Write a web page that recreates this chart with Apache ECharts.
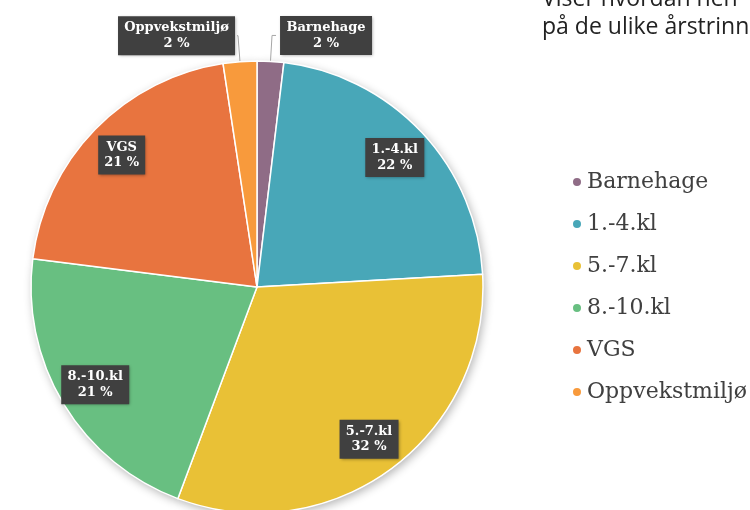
<!DOCTYPE html>
<html>
<head>
<meta charset="utf-8">
<script src="https://cdn.jsdelivr.net/npm/echarts@6/dist/echarts.min.js"></script>
<style>
  html, body { margin: 0; padding: 0; background: #fff; }
  #chart { width: 750px; height: 510px; }
</style>
</head>
<body>
<div id="chart"></div>
<script>
// data
const categories = ['Barnehage', '1.-4.kl', '5.-7.kl', '8.-10.kl', 'VGS', 'Oppvekstmiljø']
const values = [1.9, 22.2, 31.6, 21.3, 20.6, 2.4]
const colors = ['#8f6c86', '#48a7b8', '#e9c136', '#68bf81', '#e8743f', '#f89a3c']
const outsideLabels = ['Barnehage', 'Oppvekstmiljø']
const titleLines = ['Viser hvordan hen', 'på de ulike årstrinn']

const center = [257, 287]
const R = 226
const labelFont = 'bold 13px "DejaVu Serif"'

// measure label text so both lines can be centred inside the box
const ctx = document.createElement('canvas').getContext('2d')
ctx.font = labelFont
function textWidth(s) {
  return Math.ceil(ctx.measureText(s).width)
}

const boxLabel = {
  backgroundColor: '#404040',
  padding: [4, 6],
  shadowBlur: 3,
  shadowColor: 'rgba(0,0,0,0.35)',
  shadowOffsetX: 1,
  shadowOffsetY: 1,
  formatter: (p) => '{t|' + p.name + '}\n{t|' + p.percent + ' %}'
}

function richFor(name) {
  const w = Math.max(textWidth(name), textWidth('00 %'))
  return {
    t: {
      width: w,
      align: 'center',
      color: '#fff',
      fontFamily: 'DejaVu Serif',
      fontWeight: 'bold',
      fontSize: 13,
      lineHeight: 15.5
    }
  }
}

const chart = echarts.init(document.getElementById('chart'))

// main slices; only the two small ones get an outside label
const mainData = categories.map((name, i) => {
  const item = { name, value: values[i], itemStyle: { color: colors[i] } }
  if (outsideLabels.includes(name)) {
    const right = i === 0
    item.label = {
      show: true,
      position: 'outside',
      distanceToLabelLine: right ? 4 : 2,
      rich: richFor(name)
    }
    item.labelLine = {
      show: true,
      length: 26,
      length2: right ? 4 : 1,
      lineStyle: { color: '#a6a6a6', width: 1 }
    }
  }
  return item
})

// transparent ring on top, only used to place the inner labels further out
const ringData = categories.map((name, i) => ({
  name,
  value: values[i],
  label: { show: !outsideLabels.includes(name), rich: richFor(name) }
}))

chart.setOption({
  animation: false,
  legend: {
    orient: 'vertical',
    left: 566,
    top: 166,
    icon: 'circle',
    itemWidth: 10,
    itemHeight: 10,
    itemGap: 20,
    data: categories,
    textStyle: {
      fontFamily: 'DejaVu Serif',
      fontSize: 22,
      lineHeight: 22,
      color: '#404040'
    }
  },
  graphic: [
    {
      type: 'text', left: 542, top: -12,
      style: { text: titleLines[0], font: '23px "Open Sans"', fill: '#222' }
    },
    {
      type: 'text', left: 542, top: 16,
      style: { text: titleLines[1], font: '23px "Open Sans"', fill: '#222' }
    }
  ],
  series: [
    {
      type: 'pie',
      name: 'main',
      center,
      radius: R,
      startAngle: 90,
      clockwise: true,
      percentPrecision: 0,
      avoidLabelOverlap: false,
      z: 3,
      itemStyle: { borderColor: '#fff', borderWidth: 1.5 },
      label: { show: false, ...boxLabel },
      labelLine: { show: false },
      emphasis: { disabled: true },
      data: mainData
    },
    {
      // white copy underneath that carries the drop shadow
      type: 'pie',
      name: 'shadow',
      center,
      radius: R,
      startAngle: 90,
      silent: true,
      z: 1,
      label: { show: false },
      labelLine: { show: false },
      itemStyle: {
        color: '#fff',
        shadowBlur: 10,
        shadowColor: 'rgba(0,0,0,0.3)',
        shadowOffsetX: 2,
        shadowOffsetY: 3
      },
      data: values.map((v) => ({ value: v }))
    },
    {
      type: 'pie',
      name: 'labels',
      center,
      radius: [146, R],
      startAngle: 90,
      silent: true,
      percentPrecision: 0,
      avoidLabelOverlap: false,
      z: 4,
      itemStyle: { color: 'rgba(0,0,0,0)' },
      label: { position: 'inside', ...boxLabel },
      labelLine: { show: false },
      data: ringData
    }
  ]
})
</script>
</body>
</html>
